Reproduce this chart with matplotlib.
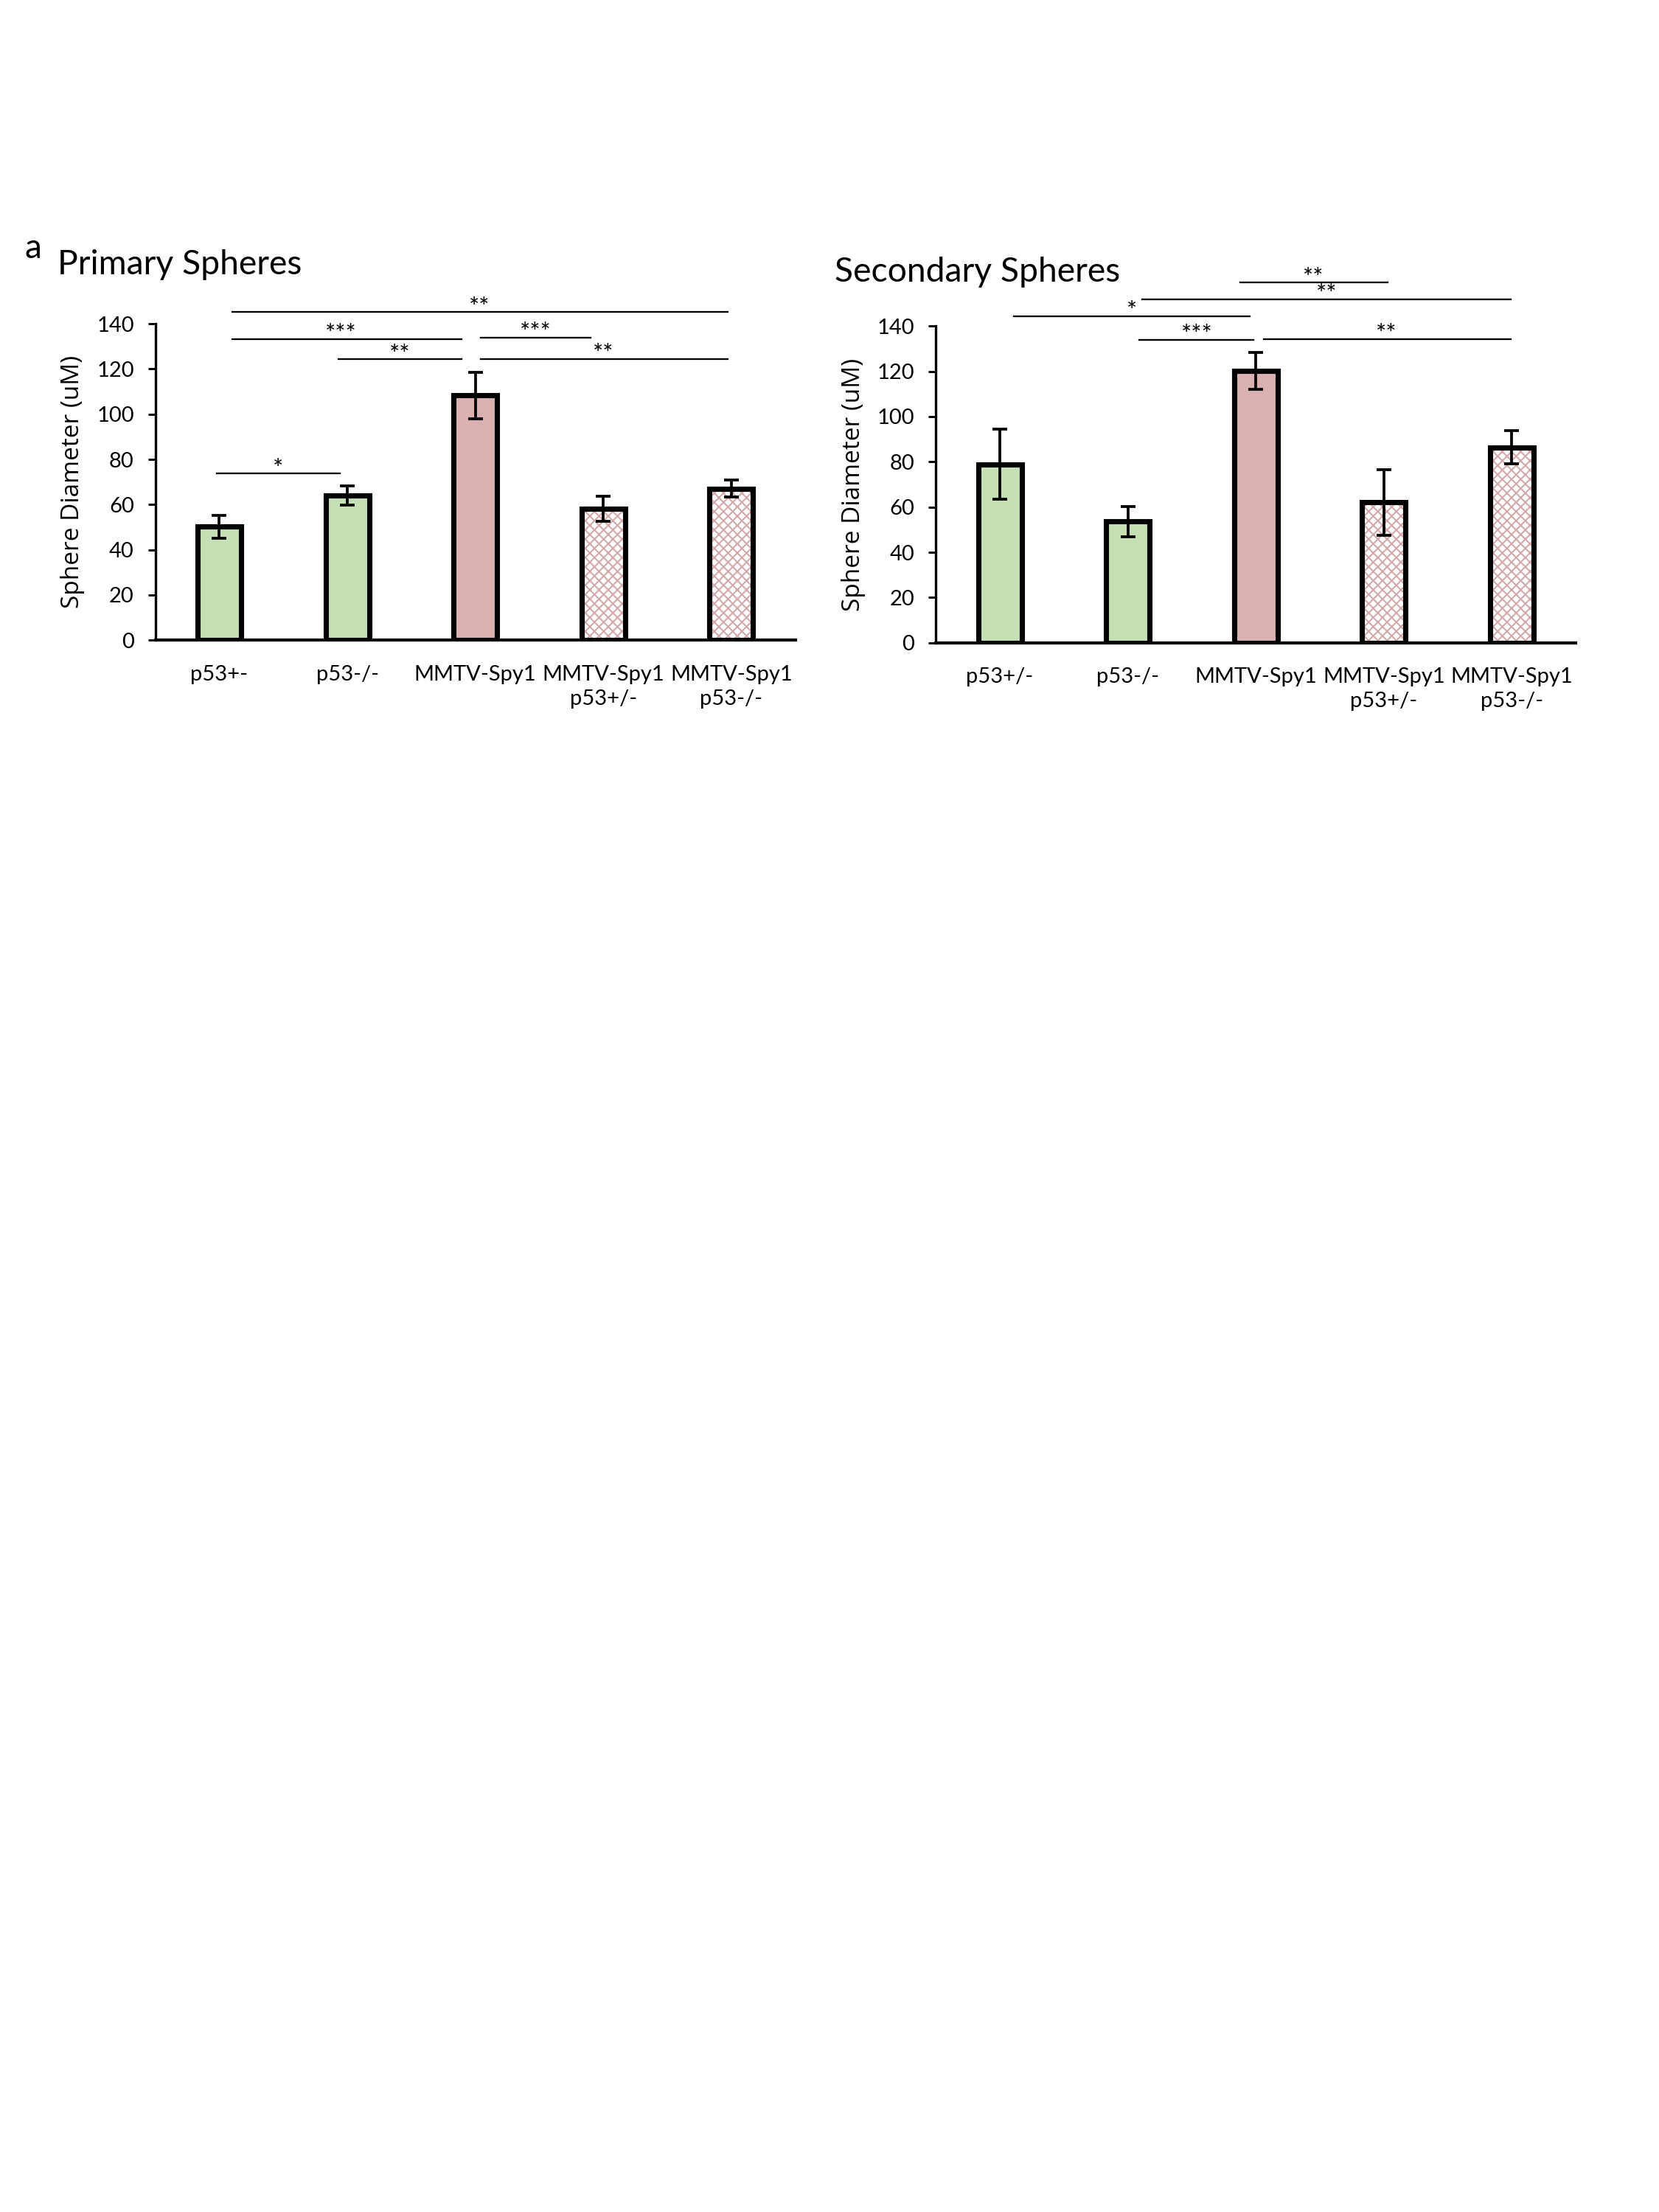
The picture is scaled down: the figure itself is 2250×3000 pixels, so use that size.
import matplotlib
matplotlib.use('Agg')
import matplotlib.pyplot as plt
import numpy as np

plt.rcParams['font.family'] = ['Lato', 'DejaVu Sans']
plt.rcParams['hatch.linewidth'] = 0.5

# data
prim_labels = ['p53+-', 'p53-/-', 'MMTV-Spy1', 'MMTV-Spy1\np53+/-', 'MMTV-Spy1\np53-/-']
prim_means = [50.2, 64.1, 108.3, 58.1, 67.1]
prim_err = [5.0, 4.2, 10.3, 5.6, 3.7]

sec_labels = ['p53+/-', 'p53-/-', 'MMTV-Spy1', 'MMTV-Spy1\np53+/-', 'MMTV-Spy1\np53-/-']
sec_means = [78.9, 53.6, 120.2, 62.1, 86.4]
sec_err = [15.5, 6.7, 8.0, 14.5, 7.4]

# significance bars: (start, end, height, stars, text x)
prim_sig = [(0.1, 3.97, 145.2, '**', 2.03),
            (0.1, 1.89, 133.3, '***', 0.95),
            (2.04, 2.9, 134.0, '***', 2.47),
            (0.93, 1.89, 124.3, '**', 1.41),
            (2.04, 3.97, 124.4, '**', 3.0),
            (-0.02, 0.94, 73.8, '*', 0.46)]
sec_sig = [(1.88, 3.03, 159.2, '**', 2.45),
           (1.11, 3.99, 151.8, '**', 2.55),
           (0.11, 1.95, 144.3, '*', 1.03),
           (1.09, 1.98, 134.0, '***', 1.54),
           (2.06, 3.99, 134.2, '**', 3.02)]

green = '#c5e0b4'
pink = '#d9b1b1'
hatch_pink = '#d3a9a9'


def draw_panel(ax, labels, means, errs, sig):
    x = np.arange(len(means))
    w = 0.34
    fills = [green, green, pink, 'white', 'white']
    for i in range(len(means)):
        if i >= 3:
            ax.bar(x[i], means[i], w, color='white', edgecolor=hatch_pink,
                   hatch='xxxxxxxx', linewidth=0, zorder=2)
            ax.bar(x[i], means[i], w, color='none', edgecolor='black',
                   linewidth=1.7, zorder=3)
        else:
            ax.bar(x[i], means[i], w, color=fills[i], edgecolor='black',
                   linewidth=1.7, zorder=3)
    ax.errorbar(x, means, yerr=errs, fmt='none', ecolor='black',
                elinewidth=0.9, capsize=2.3, capthick=0.9, zorder=4)

    for x0, x1, h, stars, tx in sig:
        ax.plot([x0, x1], [h, h], color='black', lw=0.55, clip_on=False, zorder=5)
        ax.text(tx, h + 1.8, stars, ha='center', va='center', fontsize=8,
                clip_on=False)

    ax.set_xlim(-0.5, len(means) - 0.5)
    ax.set_ylim(0, 140)
    ax.set_yticks(np.arange(0, 141, 20))
    ax.set_xticks(x)
    ax.set_xticklabels(labels, fontsize=7, linespacing=1.35)
    ax.tick_params(axis='x', length=0, pad=8)
    ax.tick_params(axis='y', labelsize=7, length=2.4, width=0.7, pad=4.5)
    for s in ['top', 'right']:
        ax.spines[s].set_visible(False)
    ax.spines['left'].set_linewidth(0.8)
    ax.spines['bottom'].set_linewidth(1.0)
    ax.set_ylabel('Sphere Diameter (uM)', fontsize=8,
                  family=['Open Sans', 'DejaVu Sans'])
    ax.yaxis.set_label_coords(-0.11, 0.5)


fig = plt.figure(figsize=(7.5, 10), dpi=300)
ax1 = fig.add_axes([0.0936, 0.7106, 0.3858, 0.1430])
ax2 = fig.add_axes([0.5641, 0.7094, 0.3858, 0.1432])

draw_panel(ax1, prim_labels, prim_means, prim_err, prim_sig)
draw_panel(ax2, sec_labels, sec_means, sec_err, sec_sig)

fig.text(0.0147, 0.8833, 'a', fontsize=11, va='baseline')
fig.text(0.0347, 0.876, 'Primary Spheres', fontsize=11.1, va='baseline')
fig.text(0.503, 0.8727, 'Secondary Spheres', fontsize=11.1, va='baseline')

fig.savefig('out.png', dpi=300, facecolor='white')
